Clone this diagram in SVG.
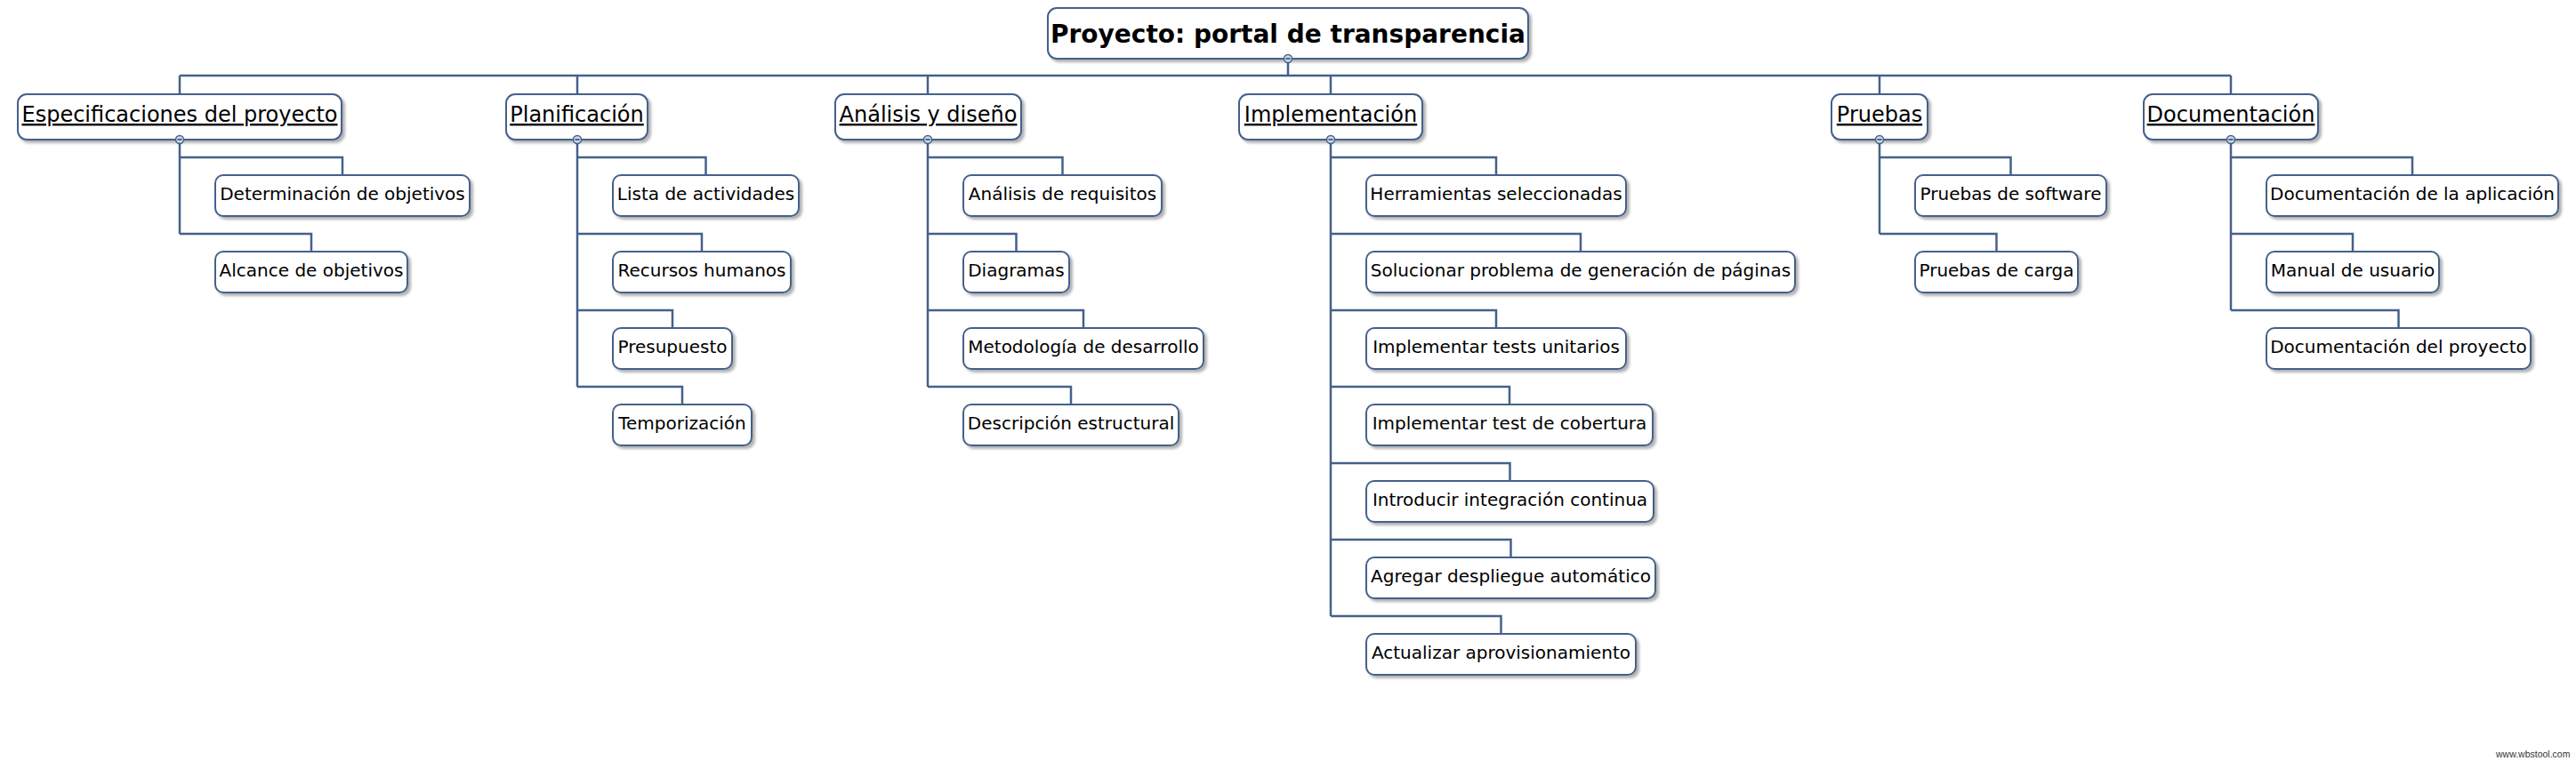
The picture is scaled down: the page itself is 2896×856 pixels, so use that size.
<svg xmlns="http://www.w3.org/2000/svg" width="2896" height="856" viewBox="0 0 2896 856">
<style>
.box{fill:#ffffff;stroke:#45618a;stroke-width:2;filter:url(#sh)}
.con{fill:none;stroke:#45618a;stroke-width:2.5}
.t{font-family:"DejaVu Sans",Verdana,sans-serif;font-size:20px;fill:#000;text-anchor:middle}
.h{font-family:"DejaVu Sans",Verdana,sans-serif;font-size:24px;fill:#000;text-anchor:middle;text-decoration:underline}
.r{font-family:"DejaVu Sans",Verdana,sans-serif;font-size:28px;font-weight:bold;fill:#000;text-anchor:middle}
.col{fill:#c9d8ea;stroke:#45618a;stroke-width:1.5}
.minus{stroke:#2a3f5e;stroke-width:1.5}
.wm{font-family:"Liberation Sans",Arial,sans-serif;font-size:10.5px;fill:#333}
</style>
<defs>
<filter id="sh" x="-10%" y="-20%" width="130%" height="160%">
<feDropShadow dx="3" dy="3" stdDeviation="1.5" flood-color="#000" flood-opacity="0.3"/>
</filter>
</defs>
<g id="connectors">
<path class="con" d="M1448 66V85M202 85H2508M202 85V106M649 85V106M1043 85V106M1496 85V106M2113 85V106M2508 85V106"/>
<path class="con" d="M202 157V263M202 177H385V197M202 263H350V283"/>
<path class="con" d="M649 157V435M649 177H793.5V197M649 263H789V283M649 349H756V369M649 435H767V455"/>
<path class="con" d="M1043 157V435M1043 177H1194.5V197M1043 263H1142.5V283M1043 349H1218V369M1043 435H1204V455"/>
<path class="con" d="M1496 157V693M1496 177H1682V197M1496 263H1777V283M1496 349H1682V369M1496 435H1697V455M1496 521H1697.5V541M1496 607H1698.5V627M1496 693H1687.5V713"/>
<path class="con" d="M2113 157V263M2113 177H2260.5V197M2113 263H2244.5V283"/>
<path class="con" d="M2508 157V349M2508 177H2712V197M2508 263H2645V283M2508 349H2696.5V369"/>
</g>
<g id="root">
<rect class="box" x="1178" y="9" width="540" height="57" rx="10"/>
<text class="r" x="1448" y="48">Proyecto: portal de transparencia</text>
<circle class="col" cx="1448" cy="66" r="4.5"/><path class="minus" d="M1445.5 66H1450.5"/>
</g>
<g id="especificaciones">
<rect class="box" x="20" y="106" width="364" height="51" rx="10"/>
<text class="h" x="202" y="137">Especificaciones del proyecto</text>
<circle class="col" cx="202" cy="157" r="4.5"/><path class="minus" d="M199.5 157H204.5"/>
</g>
<g id="determinacion"><rect class="box" x="242" y="197" width="286" height="46" rx="9"/><text class="t" x="385" y="225">Determinación de objetivos</text></g>
<g id="alcance"><rect class="box" x="242" y="283" width="216" height="46" rx="9"/><text class="t" x="350" y="311">Alcance de objetivos</text></g>
<g id="planificacion">
<rect class="box" x="569" y="106" width="159" height="51" rx="10"/>
<text class="h" x="648.5" y="137">Planificación</text>
<circle class="col" cx="649" cy="157" r="4.5"/><path class="minus" d="M646.5 157H651.5"/>
</g>
<g id="lista"><rect class="box" x="689" y="197" width="209" height="46" rx="9"/><text class="t" x="793.5" y="225">Lista de actividades</text></g>
<g id="recursos"><rect class="box" x="689" y="283" width="200" height="46" rx="9"/><text class="t" x="789" y="311">Recursos humanos</text></g>
<g id="presupuesto"><rect class="box" x="689" y="369" width="134" height="46" rx="9"/><text class="t" x="756" y="397">Presupuesto</text></g>
<g id="temporizacion"><rect class="box" x="689" y="455" width="156" height="46" rx="9"/><text class="t" x="767" y="483">Temporización</text></g>
<g id="analisis">
<rect class="box" x="939" y="106" width="209" height="51" rx="10"/>
<text class="h" x="1043.5" y="137">Análisis y diseño</text>
<circle class="col" cx="1043" cy="157" r="4.5"/><path class="minus" d="M1040.5 157H1045.5"/>
</g>
<g id="requisitos"><rect class="box" x="1083" y="197" width="223" height="46" rx="9"/><text class="t" x="1194.5" y="225">Análisis de requisitos</text></g>
<g id="diagramas"><rect class="box" x="1083" y="283" width="119" height="46" rx="9"/><text class="t" x="1142.5" y="311">Diagramas</text></g>
<g id="metodologia"><rect class="box" x="1083" y="369" width="270" height="46" rx="9"/><text class="t" x="1218" y="397">Metodología de desarrollo</text></g>
<g id="descripcion"><rect class="box" x="1083" y="455" width="242" height="46" rx="9"/><text class="t" x="1204" y="483">Descripción estructural</text></g>
<g id="implementacion">
<rect class="box" x="1393" y="106" width="206" height="51" rx="10"/>
<text class="h" x="1496" y="137">Implementación</text>
<circle class="col" cx="1496" cy="157" r="4.5"/><path class="minus" d="M1493.5 157H1498.5"/>
</g>
<g id="herramientas"><rect class="box" x="1536" y="197" width="292" height="46" rx="9"/><text class="t" x="1682" y="225">Herramientas seleccionadas</text></g>
<g id="solucionar"><rect class="box" x="1536" y="283" width="482" height="46" rx="9"/><text class="t" x="1777" y="311">Solucionar problema de generación de páginas</text></g>
<g id="unitarios"><rect class="box" x="1536" y="369" width="292" height="46" rx="9"/><text class="t" x="1682" y="397">Implementar tests unitarios</text></g>
<g id="cobertura"><rect class="box" x="1536" y="455" width="322" height="46" rx="9"/><text class="t" x="1697" y="483">Implementar test de cobertura</text></g>
<g id="integracion"><rect class="box" x="1536" y="541" width="323" height="46" rx="9"/><text class="t" x="1697.5" y="569">Introducir integración continua</text></g>
<g id="despliegue"><rect class="box" x="1536" y="627" width="325" height="46" rx="9"/><text class="t" x="1698.5" y="655">Agregar despliegue automático</text></g>
<g id="aprovisionamiento"><rect class="box" x="1536" y="713" width="303" height="46" rx="9"/><text class="t" x="1687.5" y="741">Actualizar aprovisionamiento</text></g>
<g id="pruebas">
<rect class="box" x="2059" y="106" width="108" height="51" rx="10"/>
<text class="h" x="2113" y="137">Pruebas</text>
<circle class="col" cx="2113" cy="157" r="4.5"/><path class="minus" d="M2110.5 157H2115.5"/>
</g>
<g id="software"><rect class="box" x="2153" y="197" width="215" height="46" rx="9"/><text class="t" x="2260.5" y="225">Pruebas de software</text></g>
<g id="carga"><rect class="box" x="2153" y="283" width="183" height="46" rx="9"/><text class="t" x="2244.5" y="311">Pruebas de carga</text></g>
<g id="documentacion">
<rect class="box" x="2410" y="106" width="196" height="51" rx="10"/>
<text class="h" x="2508" y="137">Documentación</text>
<circle class="col" cx="2508" cy="157" r="4.5"/><path class="minus" d="M2505.5 157H2510.5"/>
</g>
<g id="aplicacion"><rect class="box" x="2548" y="197" width="328" height="46" rx="9"/><text class="t" x="2712" y="225">Documentación de la aplicación</text></g>
<g id="manual"><rect class="box" x="2548" y="283" width="194" height="46" rx="9"/><text class="t" x="2645" y="311">Manual de usuario</text></g>
<g id="docproyecto"><rect class="box" x="2548" y="369" width="297" height="46" rx="9"/><text class="t" x="2696.5" y="397">Documentación del proyecto</text></g>
<text class="wm" x="2806" y="852">www.wbstool.com</text>
</svg>
